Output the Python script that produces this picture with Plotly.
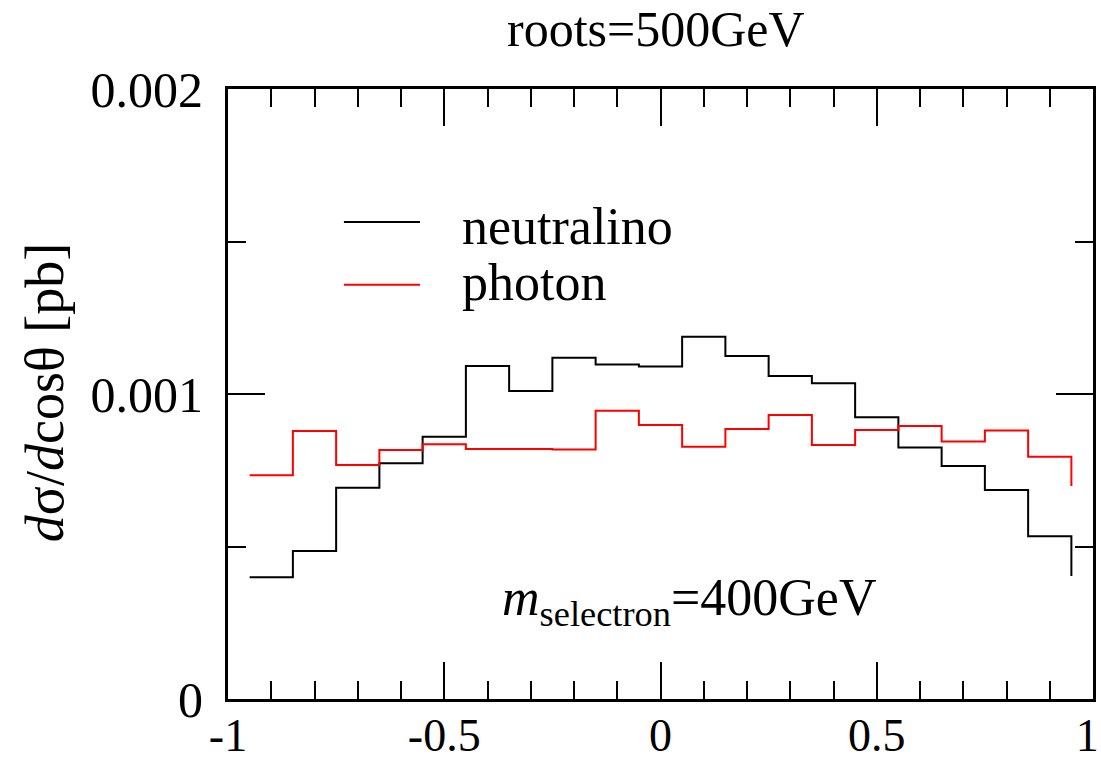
import plotly.graph_objects as go

# bin edges (step positions), last entry is the closing edge
cos_edges = [-0.95, -0.85, -0.75, -0.65, -0.55, -0.45, -0.35, -0.25, -0.15, -0.05,
             0.05, 0.15, 0.25, 0.35, 0.45, 0.55, 0.65, 0.75, 0.85, 0.95]
neutralino = [0.000399, 0.000485, 0.000693, 0.000773, 0.000860, 0.001092, 0.001010,
              0.001119, 0.001097, 0.001090, 0.001188, 0.001125, 0.001059, 0.001035,
              0.000924, 0.000825, 0.000764, 0.000685, 0.000534, 0.000403]
photon = [0.000734, 0.000879, 0.000767, 0.000816, 0.000835, 0.000820, 0.000820,
          0.000818, 0.000945, 0.000898, 0.000827, 0.000885, 0.000931, 0.000833,
          0.000882, 0.000895, 0.000844, 0.000880, 0.000794, 0.000698]

x_tickvals = [-1, -0.5, 0, 0.5, 1]
x_ticktext = ["-1", "-0.5", "0", "0.5", "1\u00a0"]
y_tickvals = [0, 0.001, 0.002]
y_ticktext = ["0", "0.001", "0.002"]

FONT = "Liberation Serif"

fig = go.Figure()
fig.add_trace(go.Scatter(x=cos_edges, y=neutralino, mode="lines", line_shape="hv",
                         line=dict(color="black", width=2), name="neutralino",
                         cliponaxis=False))
fig.add_trace(go.Scatter(x=cos_edges, y=photon, mode="lines", line_shape="hv",
                         line=dict(color="#ff0000", width=2), name="photon",
                         cliponaxis=False))

axis_common = dict(showline=True, linecolor="black", linewidth=3, mirror="allticks",
                   ticks="inside", ticklen=37, tickwidth=2, tickcolor="black",
                   showgrid=False, zeroline=False, automargin=False,
                   ticklabeloverflow="allow")

fig.update_xaxes(range=[-1, 1], tickmode="array", tickvals=x_tickvals, ticktext=x_ticktext,
                 tickfont=dict(family=FONT, size=46, color="black"),
                 ticklabelstandoff=-6,
                 minor=dict(tickmode="linear", tick0=-1, dtick=0.1, ticks="inside",
                            ticklen=18, tickwidth=2, tickcolor="black", showgrid=False),
                 **axis_common)
fig.update_yaxes(range=[0, 0.002], tickmode="array", tickvals=y_tickvals, ticktext=y_ticktext,
                 tickfont=dict(family=FONT, size=50, color="black"),
                 ticklabelstandoff=12,
                 minor=dict(tickmode="linear", tick0=0, dtick=0.0005, ticks="inside",
                            ticklen=18, tickwidth=2, tickcolor="black", showgrid=False),
                 **axis_common)

annotations = [
    dict(text="roots=500GeV", x=0.495, y=1.098, xref="paper", yref="paper",
         xanchor="center", yanchor="middle", showarrow=False,
         font=dict(family=FONT, size=50, color="black")),
    dict(text="<i>d</i>σ/<i>d</i>cosθ [pb]", x=-0.2116, y=0.503, xref="paper", yref="paper",
         xanchor="center", yanchor="middle", textangle=-90, showarrow=False,
         font=dict(family=FONT, size=54, color="black")),
    dict(text="neutralino", x=0.268, y=0.775, xref="paper", yref="paper",
         xanchor="left", yanchor="middle", showarrow=False,
         font=dict(family=FONT, size=52, color="black")),
    dict(text="photon", x=0.268, y=0.682, xref="paper", yref="paper",
         xanchor="left", yanchor="middle", showarrow=False,
         font=dict(family=FONT, size=52, color="black")),
    dict(text="<i>m</i><sub>selectron</sub>=400GeV", x=0.314, y=0.16, xref="paper", yref="paper",
         xanchor="left", yanchor="middle", showarrow=False,
         font=dict(family=FONT, size=52, color="black")),
]

shapes = [
    dict(type="line", xref="paper", yref="paper", x0=0.134, x1=0.222, y0=0.782, y1=0.782,
         line=dict(color="black", width=2)),
    dict(type="line", xref="paper", yref="paper", x0=0.134, x1=0.222, y0=0.679, y1=0.679,
         line=dict(color="#ff0000", width=2)),
]

fig.update_layout(width=1101, height=762, margin=dict(l=228, r=8, t=89, b=63),
                  plot_bgcolor="white", paper_bgcolor="white", showlegend=False,
                  annotations=annotations, shapes=shapes,
                  font=dict(family=FONT, color="black"))

fig.write_html("out.html")
